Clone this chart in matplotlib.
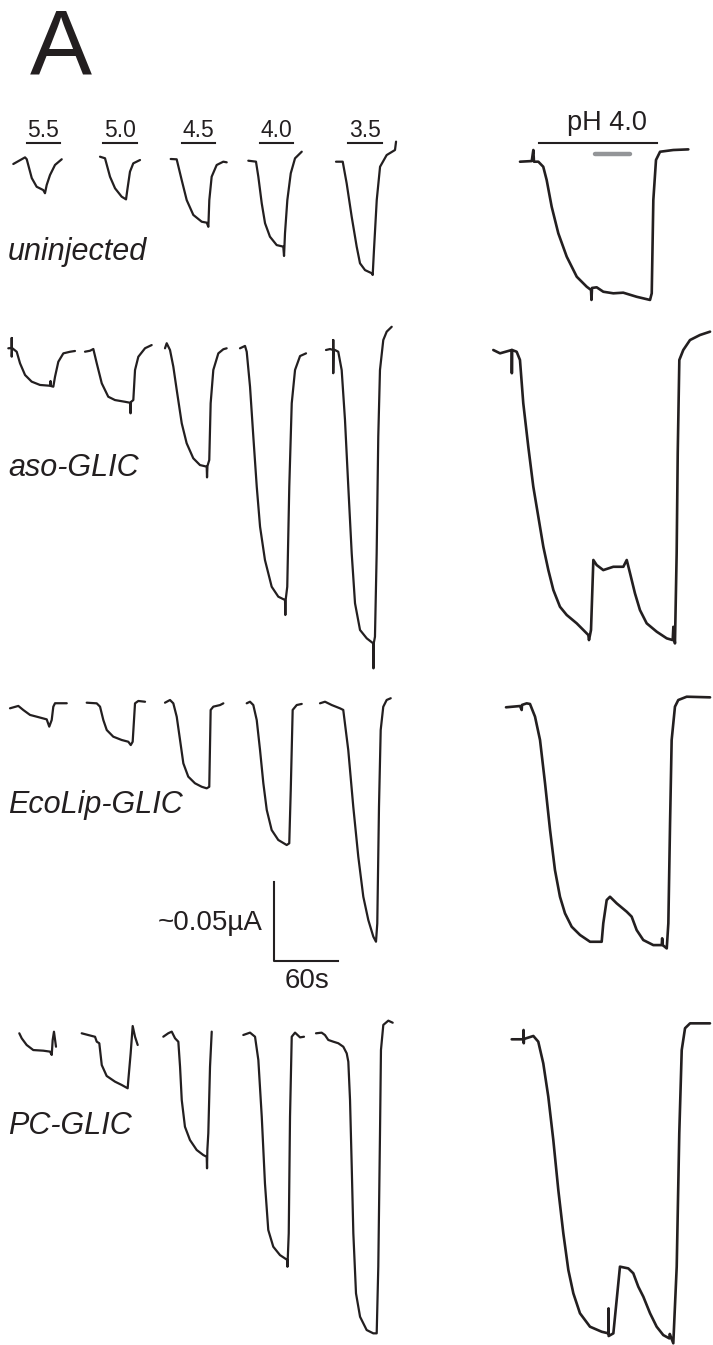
import matplotlib
matplotlib.use("Agg")
import matplotlib.pyplot as plt

plt.rcParams['font.family'] = ['Liberation Sans', 'DejaVu Sans']

INK = '#231f20'

# calibration from the scale bar: 60 s = 64 px, 50 nA = 79 px
SEC_PER_PX = 60 / 64
NA_PER_PX = 50 / 79

ph_labels = ['5.5', '5.0', '4.5', '4.0', '3.5']
row_names = ['uninjected', 'aso-GLIC', 'EcoLip-GLIC', 'PC-GLIC']

# traces: time (s) from trace start, current (nA) relative to start baseline
# order in each row: pH 5.5, 5.0, 4.5, 4.0, 3.5, then long pH 4.0 trace
uninjected_t = [
    [0, 11.0, 12.6, 17.3, 21.9, 28.1, 29.7, 31.3, 34.4, 39.1, 45.4],
    [0, 4.7, 9.4, 14.1, 20.3, 24.4, 25.6, 28.1, 31.2, 37.5],
    [0, 5.6, 10.3, 15.0, 21.2, 29.1, 33.8, 35.3, 36.2, 38.4, 43.1, 49.3, 52.5],
    [0, 7.2, 9.4, 12.6, 15.7, 20.3, 26.6, 32.8, 33.5, 34.4, 36.6, 39.8, 43.8, 50.1],
    [0, 6.3, 10.0, 14.7, 19.4, 22.5, 27.2, 33.5, 34.4, 35.6, 38.2, 41.3, 47.5, 55.3, 56.3],
    [0, 11.0, 12.5, 13.1, 17.2, 21.8, 25.0, 29.7, 35.9, 43.8, 53.2, 62.5, 66.6, 67.0, 67.5,
     71.9, 78.1, 87.5, 96.8, 109.4, 121.9, 123.5, 125.0, 127.5, 131.3, 143.7, 157.8],
]
uninjected_i = [
    [0, 4.2, 3.0, -8.9, -14.4, -16.5, -18.5, -13.3, -7.0, -0.6, 3.0],
    [0, -1.0, -12.7, -20.0, -25.3, -27.0, -21.1, -9.5, -4.2, -2.1],
    [0, -0.2, -13.3, -26.0, -35.4, -39.7, -40.3, -42.9, -26.0, -11.2, -3.8, -1.7, -2.1],
    [0, -0.6, -10.1, -27.0, -39.6, -48.1, -53.4, -54.4, -60.3, -46.0, -24.9, -8.0, 1.5, 5.7],
    [0, 0, -13.7, -34.8, -53.8, -64.3, -68.6, -70.6, -71.7, -55.9, -24.2, -3.2, 4.2, 7.4, 12.7],
    [0, 0.4, 7.4, 0, 0, -3.2, -11.6, -28.5, -45.3, -60.1, -72.8, -79.1, -81.2, -87.5, -79.9,
     -79.5, -82.3, -83.3, -82.9, -85.5, -87.5, -83.3, -24.2, 1.1, 6.3, 7.4, 7.8],
]

aso_t = [
    [0, 3.2, 3.2, 3.2, 3.5, 7.9, 11.0, 15.7, 21.9, 29.7, 39.1, 39.6, 40.0, 42.2, 43.8, 46.9,
     51.6, 57.8, 62.5],
    [0, 4.7, 7.8, 11.0, 15.7, 21.8, 28.1, 37.5, 42.2, 42.7, 43.1, 45.3, 46.9, 50.0, 56.3, 62.5],
    [0, 1.6, 4.7, 7.8, 11.0, 15.7, 20.3, 26.5, 32.8, 39.1, 39.4, 39.8, 41.5, 42.8, 45.3, 50.0,
     54.7, 57.8],
    [0, 4.7, 6.3, 9.4, 12.5, 15.7, 18.8, 23.4, 29.7, 35.9, 42.2, 42.5, 42.8, 44.3, 46.2, 48.5,
     51.6, 56.3, 61.9],
    [0, 3.8, 6.8, 6.8, 6.8, 7.1, 8.4, 11.5, 14.7, 17.8, 20.9, 24.1, 27.2, 31.9, 38.2, 44.3,
     44.5, 44.8, 45.9, 47.5, 49.0, 50.6, 53.7, 56.9, 61.6],
    [0, 6.3, 17.3, 17.4, 17.6, 21.9, 25.0, 28.1, 32.8, 37.5, 42.2, 46.9, 51.6, 56.3, 62.5,
     68.8, 78.2, 84.4, 89.1, 89.7, 91.6, 93.8, 96.9, 103.1, 112.5, 121.9, 125.1, 128.2, 132.8,
     137.5, 143.8, 153.2, 162.6, 168.2, 168.8, 170.3, 171.9, 172.9, 174.4, 178.1, 184.4,
     193.8, 203.2],
]
aso_i = [
    [0, 0.2, 6.5, -5.3, 0.2, -2.2, -9.5, -16.9, -21.1, -23.2, -23.7, -20.7, -23.9, -24.3,
     -18.0, -8.5, -3.2, -2.2, -1.7],
    [0, 0.6, 1.7, -7.3, -20.0, -28.5, -30.6, -31.7, -32.3, -39.0, -31.8, -30.6, -11.6, -3.2,
     2.2, 4.2],
    [0, 3.2, -1.1, -11.6, -26.4, -47.5, -60.1, -69.6, -73.9, -74.9, -81.7, -74.5, -70.7,
     -34.8, -13.7, -3.2, -0.6, 0],
    [0, 1.5, -2.2, -24.3, -56.0, -87.6, -112.9, -134.0, -150.9, -157.2, -159.3, -168.8,
     -159.3, -150.9, -87.6, -34.8, -13.7, -4.9, -3.2],
    [0, 0.6, 0, 6.3, -14.7, 0, 0, -1.1, -12.7, -44.3, -86.5, -128.7, -160.3, -177.2, -182.5,
     -185.7, -201.5, -185.5, -181.5, -128.7, -54.9, -12.7, 6.3, 11.6, 14.7],
    [0, -2.1, 0, -14.7, 0, -1.1, -6.3, -33.7, -61.2, -86.5, -105.5, -124.5, -139.3, -151.9,
     -162.5, -167.7, -173.0, -177.2, -180.4, -183.6, -177.2, -132.9, -136.1, -139.3, -137.2,
     -137.2, -132.9, -141.3, -154.0, -164.6, -173.0, -178.3, -182.5, -183.6, -175.2, -185.7,
     -128.7, -65.4, -6.3, 0, 6.3, 9.5, 11.6],
]

ecolip_t = [
    [0, 7.8, 12.5, 18.8, 25.0, 34.4, 36.8, 39.1, 40.6, 42.2, 53.2],
    [0, 9.4, 12.5, 15.6, 18.8, 24.9, 32.8, 39.0, 41.3, 43.1, 45.3, 48.4, 54.7],
    [0, 4.7, 7.8, 11.0, 14.1, 17.2, 21.8, 28.1, 34.4, 39.1, 41.5, 42.8, 45.3, 51.6, 54.7],
    [0, 3.1, 6.2, 9.4, 12.5, 15.6, 18.8, 23.4, 29.6, 37.5, 39.9, 41.3, 43.1, 46.9, 51.6],
    [0, 4.7, 11.0, 18.8, 21.8, 26.5, 31.2, 35.9, 40.6, 45.3, 50.0, 52.5, 53.7, 55.3, 56.9,
     59.3, 62.5, 66.3],
    [0, 13.1, 14.7, 15.0, 19.4, 22.5, 27.2, 31.9, 36.6, 41.3, 45.9, 50.6, 55.3, 61.6, 69.4,
     78.8, 89.7, 91.2, 94.4, 97.5, 103.8, 113.2, 117.8, 122.5, 128.7, 138.1, 146.0, 146.4,
     146.9, 150.7, 152.2, 153.8, 155.3, 158.4, 161.5, 169.4, 191.3],
]
ecolip_i = [
    [0, 1.5, -1.1, -4.2, -5.3, -7.0, -11.6, -7.4, 1.0, 3.2, 3.2],
    [0, -0.4, -2.5, -11.0, -17.3, -21.5, -23.6, -24.7, -26.8, -24.7, -0.4, 1.1, 0.6],
    [0, 1.7, -0.4, -8.9, -23.6, -38.4, -46.8, -51.0, -53.2, -54.2, -53.2, -4.6, -2.5, -1.5,
     -0.4],
    [0, 1.0, -1.1, -10.6, -29.6, -50.6, -67.5, -80.2, -86.5, -89.7, -88.6, -54.9, -4.2, -1.1,
     -0.4],
    [0, 1.0, -1.1, -3.2, -4.2, -29.6, -65.5, -97.1, -122.4, -137.2, -147.7, -150.9, -139.3,
     -65.5, -16.9, -2.2, 2.1, 3.2],
    [0, 0.8, -1.7, 1.5, 2.5, 2.1, -5.9, -20.7, -48.1, -77.7, -103.0, -119.9, -130.4, -138.9,
     -144.1, -148.4, -148.4, -136.7, -122.0, -119.9, -124.1, -129.4, -132.5, -141.0, -147.3,
     -150.5, -150.5, -146.2, -150.5, -152.6, -136.7, -73.4, -20.7, 0.4, 4.6, 6.7, 6.3],
]

pc_t = [
    [0, 2.3, 6.9, 13.1, 22.5, 28.8, 30.4, 31.3, 32.5, 34.4],
    [0, 6.2, 12.5, 14.1, 16.5, 18.8, 23.4, 31.2, 37.5, 43.1, 43.7, 45.9, 47.8, 50.0, 52.5],
    [0, 4.7, 7.9, 11.0, 14.1, 15.7, 17.3, 20.3, 25.0, 31.3, 37.5, 40.7, 41.0, 41.3, 42.2,
     43.8, 45.4],
    [0, 6.3, 11.0, 14.1, 17.3, 20.3, 23.4, 28.1, 34.4, 41.3, 41.4, 41.7, 42.6, 43.8, 45.4,
     48.5, 53.2, 56.9],
    [0, 5.3, 8.4, 11.5, 16.2, 20.9, 25.6, 28.8, 30.3, 31.9, 33.5, 35.0, 37.5, 41.3, 47.5,
     53.7, 56.9, 58.4, 60.0, 60.9, 63.1, 67.8, 71.9],
    [0, 10.9, 11.1, 11.3, 11.5, 20.3, 24.9, 29.6, 34.3, 39.0, 43.7, 48.4, 53.1, 57.8, 64.0,
     73.4, 84.4, 90.6, 90.8, 90.9, 95.3, 98.4, 101.5, 109.3, 114.0, 118.7, 123.4, 129.7,
     135.9, 142.1, 147.8, 148.2, 151.5, 154.7, 157.1, 159.4, 162.5, 167.2, 185.9],
]
pc_i = [
    [0, -3.2, -7.4, -10.6, -11.0, -11.6, -13.7, -4.2, 1.0, -8.5],
    [0, -1.1, -2.2, -5.3, -6.3, -20.1, -27.0, -30.6, -32.7, -34.8, -29.6, -12.7, 4.6, -2.2,
     -7.4],
    [0, 2.2, 3.2, -1.0, -3.2, -19.0, -40.1, -57.0, -65.4, -71.7, -74.9, -76.0, -83.3, -71.7,
     -61.1, -19.0, 3.2],
    [0, 1.5, -1.1, -15.8, -51.7, -93.9, -123.4, -134.0, -139.3, -142.4, -146.7, -141.2,
     -125.5, -51.7, -1.1, 1.5, -1.5, -1.1],
    [0, 0.4, -1.1, -4.2, -5.3, -6.3, -8.5, -12.7, -18.0, -42.2, -84.4, -126.6, -164.6,
     -179.4, -187.8, -189.9, -189.9, -147.7, -63.3, -10.6, 5.3, 8.0, 6.7],
    [0, 0, 5.9, -2.5, 0.2, 2.1, -1.5, -15.2, -36.3, -63.7, -95.4, -122.8, -146.0, -160.8,
     -173.4, -181.9, -185.1, -186.1, -170.3, -187.8, -186.1, -165.0, -143.9, -145.0, -148.1,
     -156.6, -162.9, -173.4, -181.9, -187.2, -189.3, -186.5, -192.4, -143.9, -59.5, -6.8,
     7.0, 10.1, 10.1],
]

# layout: where each trace starts on the page (pixels)
uninjected_anchor = [(13.3, 164), (100, 156.7), (170.7, 159), (248.3, 160.7), (336, 161.7), (520, 161.7)]
aso_anchor = [(8.3, 348.3), (85, 351.7), (165, 348.3), (240, 348.3), (326, 350), (493.3, 350)]
ecolip_anchor = [(10, 708.3), (86.7, 702.7), (165, 702.7), (246.7, 703.3), (320, 703.3), (506, 707.3)]
pc_anchor = [(19.3, 1033.3), (81.7, 1033.3), (163.3, 1036.7), (243.3, 1035), (316, 1033.3), (511.7, 1039.3)]
label_base = [(8, 260), (8, 476), (8, 813), (8, 1134)]
ph_bar_x = [(27, 60), (103, 137), (182, 215), (260, 293), (348, 382)]


def px(x, y):
    # page pixel -> data units (s, nA)
    return x * SEC_PER_PX, -y * NA_PER_PX


fig = plt.figure(figsize=(7.13, 13.45), dpi=100)
ax = fig.add_axes([0, 0, 1, 1])
ax.set_xlim(0, 713 * SEC_PER_PX)
ax.set_ylim(-1345 * NA_PER_PX, 0)
ax.axis('off')

rows = [(uninjected_t, uninjected_i, uninjected_anchor),
        (aso_t, aso_i, aso_anchor),
        (ecolip_t, ecolip_i, ecolip_anchor),
        (pc_t, pc_i, pc_anchor)]

for times, currents, anchors in rows:
    for k, (t, cur, a) in enumerate(zip(times, currents, anchors)):
        t0, b0 = px(*a)
        lw = 1.9 if k == 5 else 1.6
        ax.plot([t0 + v for v in t], [b0 + v for v in cur], color=INK, lw=lw,
                solid_joinstyle='round', solid_capstyle='round')

# row labels
for name, (x, y) in zip(row_names, label_base):
    ax.text(*px(x, y), name, fontsize=22, style='italic', color=INK, va='baseline', ha='left')

# pH application bars and labels
for lab, (x1, x2) in zip(ph_labels, ph_bar_x):
    ax.plot([px(x1, 0)[0], px(x2, 0)[0]], [px(0, 142.7)[1]] * 2, color=INK, lw=1.5)
    ax.text(*px((x1 + x2) / 2, 137), lab, fontsize=16.5, color=INK, ha='center', va='baseline')

ax.plot([px(539, 0)[0], px(657, 0)[0]], [px(0, 142.7)[1]] * 2, color=INK, lw=1.5)
ax.text(*px(607, 129.5), 'pH 4.0', fontsize=19.5, color=INK, ha='center', va='baseline')
ax.plot([px(595, 0)[0], px(630, 0)[0]], [px(0, 154)[1]] * 2, color='#939598', lw=3.2,
        solid_capstyle='round')

# scale bar: 60 s and 50 nA
sx, sy = px(274, 961)
ax.plot([sx, sx, sx + 60], [sy + 50, sy, sy], color=INK, lw=1.5)
ax.text(*px(263, 930), '~0.05µA', fontsize=20, color=INK, ha='right', va='baseline')
ax.text(*px(307, 988), '60s', fontsize=20, color=INK, ha='center', va='baseline')

# panel letter
ax.text(*px(30, 74), 'A', fontsize=67, color=INK, ha='left', va='baseline')

fig.savefig('out.png', dpi=100)
